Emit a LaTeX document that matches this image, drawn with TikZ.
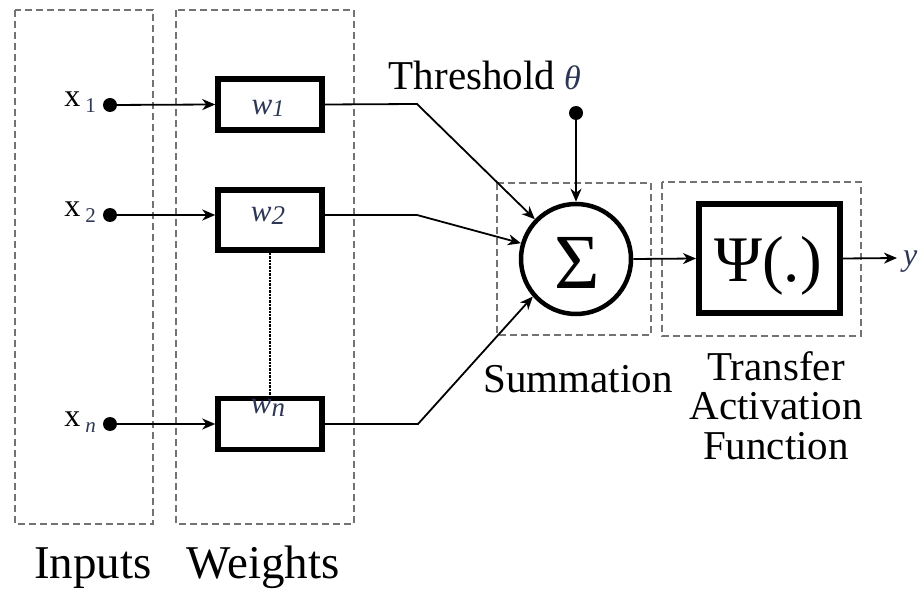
\documentclass[tikz,border=0pt]{standalone}
\usepackage{fontspec}
\setmainfont{Liberation Serif}
\usetikzlibrary{arrows.meta}
\definecolor{lbl}{RGB}{45,55,85}
\tikzset{
  dashbox/.style={draw=black!55, line width=1.4pt, dash pattern=on 7pt off 4pt},
  wbox/.style={draw, line width=5.5pt, minimum width=104pt, minimum height=51pt, inner sep=0pt},
  conn/.style={line width=1.8pt, -{Stealth[length=13pt,width=11pt,inset=4pt]}},
  dotnode/.style={circle, fill=black, minimum size=14pt, inner sep=0pt},
  big/.style={font=\fontsize{41}{41}\selectfont, anchor=base},
  bottom/.style={font=\fontsize{47}{47}\selectfont, anchor=base},
  wlbl/.style={font=\fontsize{31}{31}\selectfont\itshape, text=lbl, anchor=base, inner sep=0pt},
  xlbl/.style={font=\fontsize{32}{32}\selectfont, anchor=base east, inner sep=0pt},
}
\newcommand{\xsub}[1]{\hspace{5pt}\raisebox{-6pt}{\fontsize{21}{21}\selectfont\color{lbl}#1}}
\begin{document}
\begin{tikzpicture}[x=1pt,y=-1pt]
\useasboundingbox (0,0) rectangle (920,593);
% dashed group boxes
\draw[dashbox] (15,10) rectangle (153,524);
\draw[dashbox] (176,10) rectangle (354,524);
\draw[dashbox] (497,183) rectangle (651,335);
\draw[dashbox] (662,182) rectangle (861,336);
% input dots and labels
\node[dotnode] (d1) at (110,105) {};
\node[dotnode] (d2) at (110,215) {};
\node[dotnode] (dn) at (110,424) {};
\node[xlbl] (lx1) at (96,107) {x\xsub{1}};
\node[xlbl] (lx2) at (96,217) {x\xsub{2}};
\node[xlbl] (lxn) at (96,426) {x\xsub{\itshape n}};
% weight boxes
\node[wbox] (w1) at (270,104.5) {};
\node[wbox, minimum height=60pt] (w2) at (270,220) {};
\node[wbox] (wn) at (270,424) {};
\node[wlbl] (lw1) at (268,115) {w\raisebox{-2pt}{\fontsize{24}{24}\selectfont 1}};
\node[wlbl] (lw2) at (268,222) {w\raisebox{-3pt}{\fontsize{27}{27}\selectfont 2}};
\node[wlbl] (lwn) at (268,413) {w\raisebox{-3pt}{\fontsize{27}{27}\selectfont n}};
\draw[line width=2.4pt, densely dotted] (w2.south) -- (wn.north);
% summation
\node[circle, draw, line width=4.5pt, minimum size=110pt, inner sep=0pt] (sig) at (576,259) {};
\node[anchor=base, inner sep=0pt, font=\fontsize{78}{78}\selectfont] (sigsym) at (577,289) {Σ};
% threshold
\node[big, inner sep=0pt] (thr) at (472,90) {Threshold};
\node[anchor=base west, inner sep=0pt, font=\fontsize{34}{34}\selectfont\itshape, text=lbl] (th) at (564,90) {θ};
\node[dotnode] (dt) at (576,113) {};
% transfer
\node[draw, line width=6pt, minimum width=141pt, minimum height=109pt, inner sep=0pt] (psi) at (769.5,258.5) {};
\node[anchor=base, inner sep=0pt, font=\fontsize{65}{65}\selectfont] (psisym) at (768,282) {Ψ(.)};
\coordinate (yend) at (897,258);
\node[anchor=base west, inner sep=0pt, font=\fontsize{32}{32}\selectfont\itshape, text=lbl] (ylbl) at (903,266) {y};
% connectors
\draw[conn] (d1) -- (w1.west);
\draw[conn] (d2) -- (w2.west |- d2);
\draw[conn] (dn) -- (wn.west);
\draw[conn] (w1.east) -- (417,104) -- (sig.136);
\draw[conn] (w2.east |- d2) -- (417,215) -- (sig.164);
\draw[conn] (wn.east) -- (418,424) -- (sig.221);
\draw[conn] (dt) -- (sig.north);
\draw[conn] (sig.east) -- (psi.west);
\draw[conn] (psi.east) -- (yend);
% labels
\node[big, inner sep=0pt] (lsum) at (578,392) {Summation};
\node[big, inner sep=0pt] (ltr) at (776,380) {Transfer};
\node[big, inner sep=0pt] (lact) at (776,419) {Activation};
\node[big, inner sep=0pt] (lfun) at (776,459) {Function};
\node[bottom, inner sep=0pt] (linp) at (93,578) {Inputs};
\node[bottom, inner sep=0pt] (lwei) at (263,578) {Weights};
\end{tikzpicture}
\end{document}
